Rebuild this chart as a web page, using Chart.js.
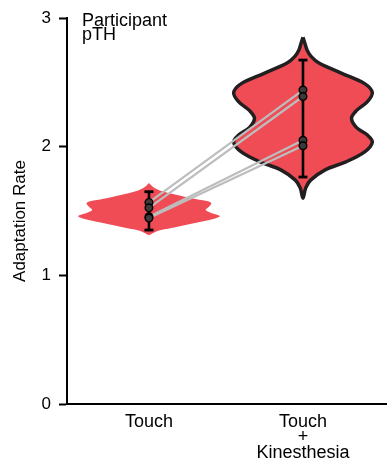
<!DOCTYPE html>
<html><head><meta charset="utf-8">
<script src="https://cdn.jsdelivr.net/npm/chart.js@4.4.0/dist/chart.umd.min.js"></script>
<style>html,body{margin:0;padding:0;background:#fff}#wrap{width:387px;height:461px;position:relative}</style>
</head><body><div id="wrap"><canvas id="c" width="387" height="461"></canvas></div>
<script>
// ---- data ----
const categories = ['Touch', ['Touch', '+', 'Kinesthesia']];
const categoryIndex = [0, 1];
const yTickValues = [0, 1, 2, 3];
const touchValues = [1.567, 1.525, 1.455, 1.445];
const kinValues = [2.44, 2.39, 2.05, 2.007];
const touchErrorBar = [1.352, 1.650];
const kinErrorBar = [1.764, 2.673];
// violin outlines: level (y) and relative half width
const touchLevels = [1.717, 1.69, 1.66, 1.625, 1.595, 1.575, 1.56, 1.535, 1.507, 1.485, 1.461, 1.44, 1.406, 1.368, 1.345, 1.329, 1.313];
const touchDensity = [0, 0.05, 0.15, 0.40, 0.64, 0.83, 0.88, 0.85, 0.80, 0.88, 1.0, 0.92, 0.65, 0.32, 0.12, 0.06, 0];
const kinLevels = [2.85, 2.80, 2.75, 2.70, 2.65, 2.57, 2.49, 2.42, 2.35, 2.28, 2.22, 2.15, 2.09, 2.035, 1.96, 1.88, 1.82, 1.74, 1.68, 1.60];
const kinDensity = [0, 0.03, 0.06, 0.12, 0.23, 0.56, 0.89, 1.0, 0.93, 0.77, 0.70, 0.77, 0.93, 1.0, 0.89, 0.61, 0.32, 0.11, 0.04, 0];
const participantLabel = ['Participant', 'pTH'];
const yTitle = 'Adaptation Rate';

// ---- styling ----
const FONT = '"Liberation Sans", Arial, Helvetica, sans-serif';
const RED = '#EF4C55';
const OUTLINE = '#231F20';

function violinPath(center, levels, dens, halfW) {
  const left = levels.map((y, i) => ({x: center - dens[i] * halfW, y}));
  const right = levels.slice(1, -1).map((y, i) => ({x: center + dens[i + 1] * halfW, y})).reverse();
  return [...left, ...right, left[0]];
}

const datasets = [];
// points (top)
datasets.push({
  data: touchValues.map(v => ({x: categoryIndex[0], y: v})).concat(kinValues.map(v => ({x: categoryIndex[1], y: v}))),
  showLine: false, pointRadius: 3.8, pointBackgroundColor: '#3a3a3a', pointBorderColor: '#000', pointBorderWidth: 1.4, order: 0
});
// paired lines
touchValues.forEach((v, i) => {
  datasets.push({
    data: [{x: categoryIndex[0], y: v}, {x: categoryIndex[1], y: kinValues[i]}],
    showLine: true, borderColor: '#BDBDBD', borderWidth: 2.2, pointRadius: 0, order: 1
  });
});
// error bars
[[categoryIndex[0], touchErrorBar], [categoryIndex[1], kinErrorBar]].forEach(([c, e]) => {
  datasets.push({
    data: [{x: c, y: e[0]}, {x: c, y: e[1]}],
    showLine: true, borderColor: '#000', borderWidth: 2.6,
    pointStyle: 'line', pointRadius: 4.5, pointBorderWidth: 2.8, pointBorderColor: '#000', order: 2
  });
});
// violins
datasets.push({
  data: violinPath(categoryIndex[0], touchLevels, touchDensity, 0.46),
  showLine: true, fill: 'shape', backgroundColor: RED, borderColor: RED, borderWidth: 0,
  pointRadius: 0, tension: 0.35, order: 5
});
datasets.push({
  data: violinPath(categoryIndex[1], kinLevels, kinDensity, 0.45),
  showLine: true, fill: 'shape', backgroundColor: RED, borderColor: OUTLINE, borderWidth: 3.5,
  pointRadius: 0, tension: 0.35, order: 4
});

const annotate = {
  id: 'annot',
  afterDraw(chart) {
    const ctx = chart.ctx, a = chart.chartArea;
    ctx.save();
    ctx.fillStyle = '#000';
    ctx.textBaseline = 'alphabetic';
    ctx.font = '18px ' + FONT;
    participantLabel.forEach((t, i) => ctx.fillText(t, a.left + 15, a.top + 8 + i * 14));
    // y-axis title
    ctx.font = '17px ' + FONT;
    ctx.textAlign = 'center';
    ctx.textBaseline = 'middle';
    ctx.translate(20, a.top + 203);
    ctx.rotate(-Math.PI / 2);
    ctx.fillText(yTitle, 0, 0);
    ctx.restore();
  }
};

new Chart(document.getElementById('c'), {
  type: 'scatter',
  data: {datasets},
  plugins: [annotate],
  options: {
    responsive: false, animation: false, devicePixelRatio: 1,
    layout: {autoPadding: false, padding: {top: 18, right: 1, left: 0, bottom: 0}},
    plugins: {legend: {display: false}, tooltip: {enabled: false}},
    scales: {
      x: {
        type: 'linear', min: -0.532, max: 1.539,
        grid: {display: false, drawTicks: false},
        border: {display: true, color: '#000', width: 2},
        ticks: {
          color: '#000', font: {family: FONT, size: 18, lineHeight: 15.5 / 18}, padding: 10,
          autoSkip: false, maxRotation: 0, minRotation: 0,
          callback: v => categories[v]
        },
        afterBuildTicks: s => { s.ticks = categoryIndex.map(v => ({value: v})); },
        afterFit: s => { s.height = 57; s.paddingLeft = 0; s.paddingRight = 0; }
      },
      y: {
        min: 0, max: 3,
        grid: {display: true, drawOnChartArea: false, drawTicks: true, tickLength: 8, tickColor: '#000', tickWidth: 2},
        border: {display: true, color: '#000', width: 2},
        ticks: {color: '#000', font: {family: FONT, size: 17}, padding: 8, stepSize: 1,
          callback: v => yTickValues.includes(v) ? String(v) : ''},
        title: {display: false},
        afterFit: s => { s.width = 67; s.paddingTop = 0; s.paddingBottom = 0; }
      }
    }
  }
});
</script></body></html>
